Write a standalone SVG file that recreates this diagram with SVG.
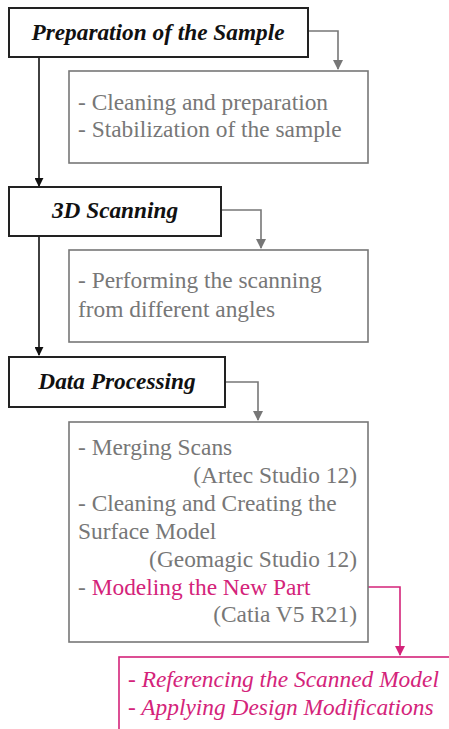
<svg xmlns="http://www.w3.org/2000/svg" width="449" height="729" viewBox="0 0 449 729">
<defs>
<style>
.title{fill:#fff;stroke:#222;stroke-width:2}
.sub{fill:#fff;stroke:#777;stroke-width:1.6}
.tt{font-family:"Liberation Serif","Times New Roman",serif;font-weight:bold;font-style:italic;font-size:23.3px;fill:#111}
.st{font-family:"Liberation Serif","Times New Roman",serif;font-size:23.4px;fill:#777}
.pk{fill:#d4237a}
.pt{font-family:"Liberation Serif","Times New Roman",serif;font-style:italic;font-size:23.4px;fill:#d4237a}
.blk{fill:none;stroke:#111;stroke-width:1.6}
.gry{fill:none;stroke:#777;stroke-width:1.6}
.pnk{fill:none;stroke:#d4237a;stroke-width:1.6}
</style>
<marker id="ab" viewBox="0 0 10 10" refX="9" refY="5" markerWidth="9" markerHeight="9" markerUnits="userSpaceOnUse" orient="auto"><path d="M0,0 L10,5 L0,10 Z" fill="#111"/></marker>
<marker id="ag" viewBox="0 0 10 10" refX="9" refY="5" markerWidth="10" markerHeight="10" markerUnits="userSpaceOnUse" orient="auto"><path d="M0,0 L10,5 L0,10 Z" fill="#777"/></marker>
<marker id="ap" viewBox="0 0 10 10" refX="9" refY="5" markerWidth="10" markerHeight="10" markerUnits="userSpaceOnUse" orient="auto"><path d="M0,0 L10,5 L0,10 Z" fill="#d4237a"/></marker>
</defs>
<rect width="449" height="729" fill="#fff"/>
<g id="connectors">
<path class="blk" d="M39,57 V186" marker-end="url(#ab)"/>
<path class="blk" d="M39,236 V355" marker-end="url(#ab)"/>
<path class="gry" d="M308,31 H338 V69" marker-end="url(#ag)"/>
<path class="gry" d="M221,210 H261 V248" marker-end="url(#ag)"/>
<path class="gry" d="M225,382 H258 V420" marker-end="url(#ag)"/>
<path class="pnk" d="M316,587 H400 V655" marker-end="url(#ap)"/>
</g>
<g id="n1">
<rect class="title" x="9" y="8" width="299" height="49"/>
<text class="tt" x="158" y="40" text-anchor="middle">Preparation of the Sample</text>
</g>
<g id="n2">
<rect class="sub" x="69" y="71" width="299" height="92"/>
<text class="st" x="78" y="110">- Cleaning and preparation</text>
<text class="st" x="78" y="137">- Stabilization of the sample</text>
</g>
<g id="n3">
<rect class="title" x="9" y="187" width="212" height="49"/>
<text class="tt" x="115" y="218" text-anchor="middle">3D Scanning</text>
</g>
<g id="n4">
<rect class="sub" x="69" y="250" width="299" height="92"/>
<text class="st" x="78" y="288">- Performing the scanning</text>
<text class="st" x="78" y="317">from different angles</text>
</g>
<g id="n5">
<rect class="title" x="9" y="357" width="216" height="50"/>
<text class="tt" x="117" y="389" text-anchor="middle">Data Processing</text>
</g>
<g id="n6">
<rect class="sub" x="69" y="422" width="299" height="220"/>
<text class="st" x="78" y="455">- Merging Scans</text>
<text class="st" x="357" y="483" text-anchor="end">(Artec Studio 12)</text>
<text class="st" x="78" y="511">- Cleaning and Creating the</text>
<text class="st" x="78" y="539">Surface Model</text>
<text class="st" x="357" y="567" text-anchor="end">(Geomagic Studio 12)</text>
<text class="st" x="78" y="595">- <tspan class="pk">Modeling the New Part</tspan></text>
<text class="st" x="357" y="622" text-anchor="end">(Catia V5 R21)</text>
</g>
<g id="n7">
<rect x="119" y="657" width="340" height="90" fill="#fff" stroke="#d4237a" stroke-width="1.6"/>
<text class="pt" x="128" y="687">- Referencing the Scanned Model</text>
<text class="pt" x="128" y="715">- Applying Design Modifications</text>
</g>
</svg>
